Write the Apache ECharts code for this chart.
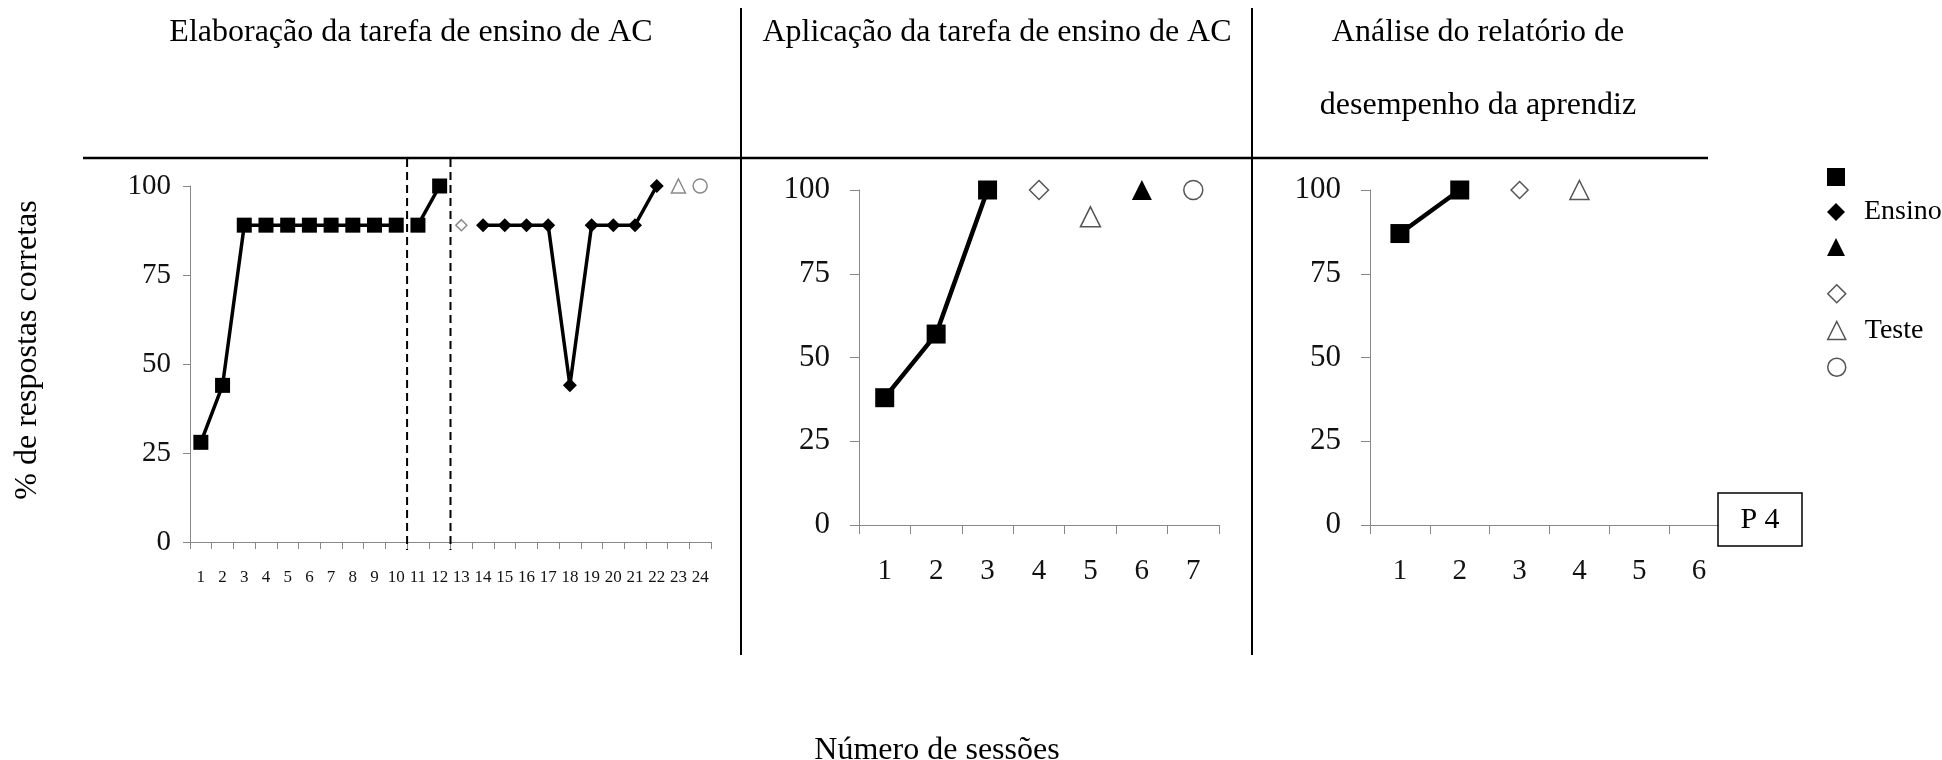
<!DOCTYPE html>
<html><head><meta charset="utf-8">
<script src="https://cdn.jsdelivr.net/npm/echarts@6/dist/echarts.min.js"></script>
<style>html,body{margin:0;padding:0;background:#fff}#c{width:1942px;height:760px}</style>
</head><body><div id="c"></div>
<script>
const FONT = "'Liberation Serif','Times New Roman',serif";
const panelTitles = ['Elaboração da tarefa de ensino de AC', 'Aplicação da tarefa de ensino de AC', 'Análise do relatório de', 'desempenho da aprendiz'];
const yAxisTitle = '% de respostas corretas';
const xAxisTitle = 'Número de sessões';
const participant = 'P 4';
const yTicks = [0, 25, 50, 75, 100];

// Panel 1
const p1Sessions = ['1','2','3','4','5','6','7','8','9','10','11','12','13','14','15','16','17','18','19','20','21','22','23','24'];
const p1EnsinoSqA = [['1',28],['2',44],['3',89],['4',89],['5',89],['6',89],['7',89],['8',89],['9',89],['10',89]];
const p1EnsinoSqB = [['11',89],['12',100]];
const p1TesteDm = [['13',89]];
const p1EnsinoDm = [['14',89],['15',89],['16',89],['17',89],['18',44],['19',89],['20',89],['21',89],['22',100]];
const p1TesteTr = [['23',100]];
const p1TesteCi = [['24',100]];
const p1PhaseBreaks = [['10','11'],['12','13']];

// Panel 2
const p2Sessions = ['1','2','3','4','5','6','7'];
const p2EnsinoSq = [['1',38],['2',57],['3',100]];
const p2TesteDm = [['4',100]];
const p2TesteTr = [['5',92]];
const p2EnsinoTr = [['6',100]];
const p2TesteCi = [['7',100]];

// Panel 3
const p3Sessions = ['1','2','3','4','5','6'];
const p3EnsinoSq = [['1',87],['2',100]];
const p3TesteDm = [['3',100]];
const p3TesteTr = [['4',100]];

const legendEnsino = ['Ensino (quadrado)', 'Ensino', 'Ensino (triângulo)'];
const legendTeste = ['Teste (losango)', 'Teste', 'Teste (círculo)'];
const legendShown = ['Ensino', 'Teste'];

const symbolOf = {
  'Ensino (quadrado)': 'rect', 'Ensino': 'diamond', 'Ensino (triângulo)': 'triangle',
  'Teste (losango)': 'diamond', 'Teste': 'triangle', 'Teste (círculo)': 'circle'
};
const hollow = n => n.indexOf('Teste') === 0;

function mk(name, data, gi, size, lw, hollowColor) {
  const isHollow = hollow(name);
  return {
    type: 'line', name, data, xAxisIndex: gi, yAxisIndex: gi,
    symbol: symbolOf[name], symbolSize: size, showAllSymbol: true,
    lineStyle: { color: '#000', width: lw },
    itemStyle: isHollow ? { color: '#fff', borderColor: hollowColor, borderWidth: 1.5 }
                        : { color: '#000', borderColor: '#000', borderWidth: 0 },
    emphasis: { disabled: true }, z: 3
  };
}

const axisGrey = '#888';
function yAx(gi, fs, margin, tickLen) {
  return {
    type: 'value', gridIndex: gi, min: yTicks[0], max: yTicks[yTicks.length - 1], interval: yTicks[1] - yTicks[0],
    axisLine: { show: true, lineStyle: { color: axisGrey, width: 1 } },
    axisTick: { show: true, length: tickLen, lineStyle: { color: axisGrey } },
    splitLine: { show: false },
    axisLabel: { fontFamily: FONT, fontSize: fs, color: '#111', margin }
  };
}
function xAx(gi, cats, fs, margin, tickLen) {
  return {
    type: 'category', gridIndex: gi, data: cats, boundaryGap: true,
    axisLine: { show: true, lineStyle: { color: axisGrey, width: 1 } },
    axisTick: { show: true, interval: 0, length: tickLen, lineStyle: { color: axisGrey } },
    axisLabel: { interval: 0, fontFamily: FONT, fontSize: fs, color: '#111', margin }
  };
}

const legendData = names => names.map(n => ({
  name: n, icon: symbolOf[n],
  itemStyle: hollow(n) ? { color: '#fff', borderColor: '#555', borderWidth: 1.5 } : { color: '#000', borderWidth: 0 }
}));
const legendText = { fontFamily: FONT, fontSize: 28, color: '#000', lineHeight: 20, padding: [0, 0, 0, 14] };

const chart = echarts.init(document.getElementById('c'), null, { renderer: 'canvas' });
const option = {
  animation: false,
  backgroundColor: '#fff',
  grid: [
    { left: 190, top: 186, width: 521, height: 356 },
    { left: 859, top: 190, width: 360, height: 335 },
    { left: 1370, top: 190, width: 359, height: 335 }
  ],
  xAxis: [xAx(0, p1Sessions, 17, 27, 7), xAx(1, p2Sessions, 29, 32, 9), xAx(2, p3Sessions, 29, 32, 9)],
  yAxis: [yAx(0, 29, 19, 7), yAx(1, 31, 29, 9), yAx(2, 31, 29, 9)],
  legend: [
    { orient: 'vertical', left: 1822, top: 163, itemWidth: 18, itemHeight: 18, itemGap: 12, selectedMode: false,
      data: legendData(legendEnsino), formatter: n => legendShown.indexOf(n) >= 0 ? n : '', textStyle: legendText },
    { orient: 'vertical', left: 1822, top: 279, itemWidth: 18, itemHeight: 18, itemGap: 13, selectedMode: false,
      data: legendData(legendTeste), formatter: n => legendShown.indexOf(n) >= 0 ? n : '', textStyle: legendText }
  ],
  series: [
    mk('Ensino (quadrado)', p1EnsinoSqA, 0, 15, 3.5, '#888'),
    mk('Ensino (quadrado)', p1EnsinoSqB, 0, 15, 3.5, '#888'),
    mk('Teste (losango)', p1TesteDm, 0, 11, 3.5, '#8a8a8a'),
    mk('Ensino', p1EnsinoDm, 0, 14, 3.5, '#888'),
    mk('Teste', p1TesteTr, 0, 14, 3.5, '#8a8a8a'),
    mk('Teste (círculo)', p1TesteCi, 0, 14, 3.5, '#8a8a8a'),
    mk('Ensino (quadrado)', p2EnsinoSq, 1, 19, 4.5, '#555'),
    mk('Teste (losango)', p2TesteDm, 1, 19, 4.5, '#555'),
    mk('Teste', p2TesteTr, 1, 20, 4.5, '#555'),
    mk('Ensino (triângulo)', p2EnsinoTr, 1, 20, 4.5, '#555'),
    mk('Teste (círculo)', p2TesteCi, 1, 19, 4.5, '#555'),
    mk('Ensino (quadrado)', p3EnsinoSq, 2, 19, 4.5, '#555'),
    mk('Teste (losango)', p3TesteDm, 2, 17, 4.5, '#555'),
    mk('Teste', p3TesteTr, 2, 19, 4.5, '#555')
  ]
};
chart.setOption(option);

// Decorations (phase lines, headings, dividers, labels); phase lines placed via the chart's own scales
const zeroY = chart.convertToPixel({ yAxisIndex: 0 }, 0);
const phaseLines = p1PhaseBreaks.map(([a, b]) => {
  const xa = chart.convertToPixel({ xAxisIndex: 0 }, a);
  const xb = chart.convertToPixel({ xAxisIndex: 0 }, b);
  const x = (xa + xb) / 2;
  return { type: 'line', z: 5, shape: { x1: x, y1: 159, x2: x, y2: zeroY + 8 },
           style: { stroke: '#000', lineWidth: 2, lineDash: [8, 5] } };
});
const txt = (text, x, y, size, rot) => ({
  type: 'text', x, y, rotation: rot || 0, z: 10,
  style: { text, font: size + 'px ' + FONT, fill: '#000', textAlign: 'center', textVerticalAlign: 'middle', align: 'center', verticalAlign: 'middle' }
});
chart.setOption({
  graphic: [
    ...phaseLines,
    { type: 'line', z: 5, shape: { x1: 83, y1: 158, x2: 1708, y2: 158 }, style: { stroke: '#000', lineWidth: 2.5 } },
    { type: 'line', z: 5, shape: { x1: 741, y1: 8, x2: 741, y2: 655 }, style: { stroke: '#000', lineWidth: 2 } },
    { type: 'line', z: 5, shape: { x1: 1252, y1: 8, x2: 1252, y2: 655 }, style: { stroke: '#000', lineWidth: 2 } },
    txt(panelTitles[0], 411, 33, 32),
    txt(panelTitles[1], 997, 33, 32),
    txt(panelTitles[2], 1478, 33, 32),
    txt(panelTitles[3], 1478, 106, 32),
    txt(yAxisTitle, 28, 350, 32, Math.PI / 2),
    txt(xAxisTitle, 937, 751, 32),
    { type: 'rect', z: 20, shape: { x: 1718, y: 493, width: 84, height: 53 }, style: { fill: '#fff', stroke: '#000', lineWidth: 1.5 } },
    Object.assign(txt(participant, 1760, 520, 30), { z: 21 })
  ]
});
</script>
</body></html>
